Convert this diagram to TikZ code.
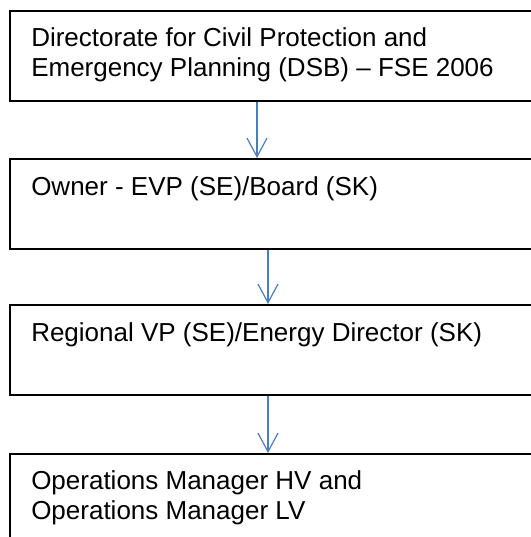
\documentclass[tikz,border=0pt]{standalone}
\usepackage{fontspec}
\setmainfont{Liberation Sans}
\usetikzlibrary{arrows.meta}
\definecolor{flowblue}{RGB}{74,126,187}

\begin{document}
\begin{tikzpicture}[x=0.75pt,y=-0.75pt,
        orgbox/.style={draw=black, line width=1.4pt, anchor=north west,
        inner sep=0pt, minimum width=405pt, minimum height=67.5pt},
        orgtext/.style={anchor=base west, inner sep=0pt, align=left,
        font=\fontsize{19.5pt}{22.5pt}\selectfont},
        flow/.style={flowblue, line width=0.9pt,
        -{Straight Barb[length=14pt, width=15pt]}}]
        \clip (0,0) rectangle (531,537);

        % boxes, they run on past the right edge
        \node[orgbox] (dsb) at (9,10) {};
        \node[orgbox] (owner) at (9,158) {};
        \node[orgbox] (regional) at (9,304) {};
        \node[orgbox, minimum height=75pt] (operations) at (9,453) {};

        % base of a two line text is its last line
        \node[orgtext] (dsbtext) at (31,76)
              {Directorate for Civil Protection and\\
               Emergency Planning (DSB) -- FSE 2006};
        \node[orgtext] (ownertext) at (31,195) {Owner - EVP (SE)/Board (SK)};
        \node[orgtext] (regionaltext) at (31,341)
              {Regional VP (SE)/Energy Director (SK)};
        \node[orgtext] (operationstext) at (31,519)
              {Operations Manager HV and\\ Operations Manager LV};

        \draw[flow] (257,0 |- dsb.south) -- (257,0 |- owner.north);
        \draw[flow] (268,0 |- owner.south) -- (268,0 |- regional.north);
        \draw[flow] (268,0 |- regional.south) -- (268,0 |- operations.north);
    \end{tikzpicture}
\end{document}
